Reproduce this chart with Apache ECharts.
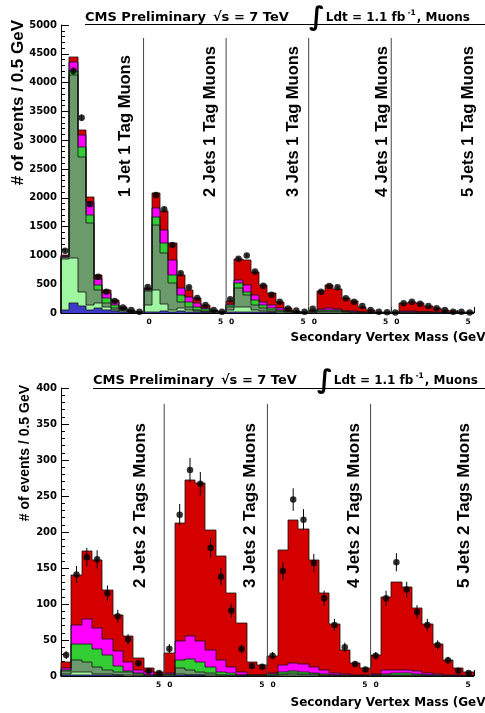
<!DOCTYPE html>
<html>
<head>
<meta charset="utf-8">
<script src="https://cdn.jsdelivr.net/npm/echarts/dist/echarts.min.js"></script>
<style>
html, body { margin: 0; padding: 0; background: #fff; }
#chart { width: 485px; height: 713px; }
</style>
</head>
<body>
<div id="chart"></div>
<script>
// 1 tag: 5 jet bins x 10 mass bins (0.5 GeV each), stacked bottom -> top
var topBlue = [
    60, 170, 120, 60, 80, 52, 30, 20, 10, 5,
    20, 25, 30, 20, 30, 25, 15, 10, 5, 2,
    20, 15, 15, 15, 15, 10, 8, 4, 2, 1,
    3, 8, 8, 6, 4, 3, 2, 1, 0.5, 0.3,
    0.5, 3, 3, 3, 2, 1, 1, 0.5, 0.3, 0.2
];
var topLightGreen = [
    870, 785, 250, 80, 88, 58, 20, 10, 5, 2,
    120, 375, 120, 30, 51, 30, 15, 10, 5, 2,
    30, 95, 95, 30, 20, 15, 10, 5, 2, 1,
    5, 10, 10, 8, 5, 4, 2, 1, 0.5, 0.3,
    0.5, 3, 3, 3, 2, 1, 1, 0.5, 0.3, 0.2
];
var topDarkGreen = [
    40, 3177, 2343, 1428, 232, 58, 30, 15, 8, 4,
    250, 1128, 886, 465, 116, 55, 22, 15, 7, 3,
    60, 318, 202, 94, 45, 30, 17, 8, 4, 2,
    12, 25, 25, 20, 12, 8, 4, 2, 1, 0.5,
    1, 8, 8, 7, 5, 3, 2, 1, 0.5, 0.3
];
var topGreen = [
    10, 75, 174, 133, 86, 87, 58, 25, 12, 5,
    10, 133, 174, 145, 115, 87, 58, 30, 12, 5,
    30, 87, 58, 87, 59, 40, 25, 10, 5, 3,
    8, 15, 15, 12, 8, 6, 3, 2, 1, 0.5,
    1, 5, 6, 5, 4, 3, 2, 1, 0.5, 0.3
];
var topMagenta = [
    10, 157, 203, 232, 99, 87, 57, 20, 7, 3,
    10, 156, 231, 260, 116, 87, 58, 30, 12, 5,
    20, 58, 116, 86, 58, 45, 27, 12, 6, 3,
    7, 20, 25, 20, 12, 9, 5, 3, 1.5, 1,
    1, 8, 9, 8, 6, 4, 3, 2, 1, 0.5
];
var topRed = [
    15, 80, 87, 87, 75, 58, 31, 20, 10, 5,
    30, 261, 335, 290, 232, 116, 87, 44, 19, 8,
    40, 359, 434, 405, 289, 202, 110, 42, 21, 10,
    25, 304, 403, 345, 225, 178, 83, 43, 20, 10,
    8, 141, 168, 142, 103, 69, 43, 30, 17.4, 8.5
];
var topData = [
    1080, 4200, 3390, 1890, 630, 370, 210, 95, 50, 20,
    450, 2050, 1800, 1180, 690, 445, 260, 140, 52, 22,
    240, 940, 1000, 720, 475, 315, 195, 80, 45, 20,
    75, 370, 470, 445, 255, 197, 120, 52, 23, 15,
    10, 168, 197, 160, 122, 81, 52, 23, 23, 10
];

// 2 tags: 4 jet bins x 10 mass bins
var botBlue = [
    1, 2, 2, 1, 1, 1, 0.5, 0.3, 0.2, 0.1,
    0.3, 1, 1, 1, 0.5, 0.3, 0.2, 0.1, 0.1, 0.1,
    0.2, 0.3, 0.3, 0.3, 0.3, 0.2, 0.1, 0.1, 0.05, 0.05,
    0.2, 0.2, 0.2, 0.2, 0.2, 0.1, 0.1, 0.05, 0.05, 0.02
];
var botLightGreen = [
    2, 3, 3, 2, 2, 1, 0.5, 0.3, 0.3, 0.1,
    0.5, 2, 1, 1, 1, 0.5, 0.3, 0.2, 0.1, 0.1,
    0.3, 0.5, 0.5, 0.5, 0.5, 0.3, 0.2, 0.1, 0.1, 0.05,
    0.2, 0.3, 0.3, 0.3, 0.2, 0.2, 0.1, 0.05, 0.05, 0.02
];
var botDarkGreen = [
    4, 17, 15, 10, 5, 4, 4, 2, 1, 0.5,
    1, 8, 6, 4, 2.5, 1.2, 1, 0.7, 0.3, 0.3,
    1, 2, 3, 2, 2, 1, 0.5, 0.3, 0.2, 0.1,
    0.5, 1, 1.5, 1.5, 1, 0.7, 0.4, 0.2, 0.1, 0.05
];
var botGreen = [
    2, 23, 25, 25, 21, 8, 2, 1.4, 0.5, 0.3,
    1, 11, 15, 14, 9, 4, 2.5, 1, 0.5, 0.5,
    1, 3, 3, 3, 2, 1.5, 1, 0.5, 0.3, 0.2,
    0.5, 1.5, 1.5, 1.5, 1, 0.8, 0.5, 0.3, 0.2, 0.1
];
var botMagenta = [
    2, 26, 34, 29, 22, 21, 12, 5, 3, 1,
    2, 26, 33, 28, 23, 16, 9, 4, 1, 1,
    2, 10, 11, 11, 8, 6, 3, 2, 1, 0.6,
    1.5, 5, 5.5, 5.5, 4, 3, 2, 1, 0.5, 0.3
];
var botRed = [
    9, 69, 94, 94, 69, 50, 36, 15.5, 6, 4,
    26.7, 164, 216, 220, 167, 144, 102, 67, 18, 13,
    23.5, 159, 199, 188, 148, 106, 68, 33, 16, 10,
    26, 102, 122, 115, 88, 68, 42, 20, 10, 5.5
];
var botData = [
    29, 141, 165, 162, 115, 83, 51, 17.6, 7, 4,
    38, 224, 286, 267, 178, 138, 91, 37.5, 14, 13,
    28, 146, 245, 217, 157, 108, 71, 40, 16.7, 9,
    28, 108, 158, 120, 89, 71, 43, 22, 7.4, 4
];

var topLabels = ['1 Jet 1 Tag Muons', '2 Jets 1 Tag Muons', '3 Jets 1 Tag Muons', '4 Jets 1 Tag Muons', '5 Jets 1 Tag Muons'];
var botLabels = ['2 Jets 2 Tags Muons', '3 Jets 2 Tags Muons', '4 Jets 2 Tags Muons', '5 Jets 2 Tags Muons'];
var topSeparators = [10, 20, 30, 40];
var botSeparators = [10, 20, 30];

var COLORS = {
    blue: '#3c3cc8',
    lightGreen: '#a0f5a0',
    darkGreen: '#6b9a6b',
    green: '#33cc33',
    magenta: '#ff00ff',
    red: '#d40000'
};
var FONT_H = 'DejaVu Sans';
var FONT_R = 'Liberation Sans';

function snap(p) {
    return [Math.round(p[0]), Math.round(p[1])];
}

// stacked histogram: bin i covers [i, i+1] on the x value axis.
// fills first, then the step outline of each cumulative component on top
function histSeries(gi, comps) {
    var n = comps[0][0].length;
    var base = comps[0][0].map(function () { return 0; });
    var fills = [], outlines = [];
    comps.forEach(function (c) {
        var rows = c[0].map(function (v, i) {
            var r = [i, base[i], base[i] + v];
            base[i] += v;
            return r;
        });
        rows.forEach(function (r, i) { r.push(i > 0 ? rows[i - 1][2] : 0); });
        fills.push({
            type: 'custom', xAxisIndex: gi, yAxisIndex: gi, silent: true, z: 2,
            encode: { x: 0, y: [1, 2] },
            data: rows,
            renderItem: function (params, api) {
                var a = snap(api.coord([api.value(0), api.value(1)]));
                var b = snap(api.coord([api.value(0) + 1, api.value(2)]));
                return {
                    type: 'rect',
                    shape: { x: a[0], y: b[1], width: b[0] - a[0], height: a[1] - b[1] },
                    style: { fill: c[1] }
                };
            }
        });
        outlines.push({
            type: 'custom', xAxisIndex: gi, yAxisIndex: gi, silent: true, z: 3,
            encode: { x: 0, y: [1, 2] },
            data: rows,
            renderItem: function (params, api) {
                var i = api.value(0), top = api.value(2);
                var pts = [api.coord([i, api.value(3)]), api.coord([i, top]), api.coord([i + 1, top])];
                if (i === n - 1) pts.push(api.coord([i + 1, 0]));
                return {
                    type: 'polyline',
                    shape: { points: pts.map(snap) },
                    style: { stroke: '#111', lineWidth: 0.8, fill: null }
                };
            }
        });
    });
    return fills.concat(outlines);
}

function dataSeries(gi, values) {
    var pts = values.map(function (v, i) { return [i + 0.5, v]; });
    return [{
        type: 'custom',
        xAxisIndex: gi,
        yAxisIndex: gi,
        silent: true,
        z: 4,
        data: pts,
        renderItem: function (params, api) {
            var x = api.value(0), y = api.value(1), e = Math.sqrt(y);
            var p1 = api.coord([x, y + e]), p2 = api.coord([x, Math.max(y - e, 0)]);
            return {
                type: 'line',
                shape: { x1: p1[0], y1: p1[1], x2: p2[0], y2: p2[1] },
                style: { stroke: '#000', lineWidth: 1 }
            };
        }
    }, {
        type: 'scatter',
        xAxisIndex: gi,
        yAxisIndex: gi,
        silent: true,
        z: 5,
        symbol: 'circle',
        symbolSize: 6.5,
        itemStyle: { color: '#000' },
        data: pts
    }];
}

function separatorSeries(gi, xs, yTop) {
    return {
        type: 'custom',
        xAxisIndex: gi,
        yAxisIndex: gi,
        silent: true,
        z: 3,
        data: xs.map(function (x) { return [x, yTop]; }),
        renderItem: function (params, api) {
            var p0 = api.coord([api.value(0), 0]), p1 = api.coord([api.value(0), api.value(1)]);
            return {
                type: 'line',
                shape: { x1: p0[0], y1: p0[1], x2: p1[0], y2: p1[1] },
                style: { stroke: '#444', lineWidth: 1 }
            };
        }
    };
}

var tickRich = {
    a: { fontSize: 7.5, fontWeight: 'bold', fontFamily: FONT_H, color: '#000', padding: [0, 3, 0, 0] },
    b: { fontSize: 7.5, fontWeight: 'bold', fontFamily: FONT_H, color: '#000', padding: [0, 0, 0, 3] },
    ha: { fontSize: 7.5, fontWeight: 'bold', fontFamily: FONT_H, color: 'rgba(0,0,0,0)', padding: [0, 3, 0, 0] },
    hb: { fontSize: 7.5, fontWeight: 'bold', fontFamily: FONT_H, color: 'rgba(0,0,0,0)', padding: [0, 0, 0, 3] }
};

function xAxis(gi, max, firstHidden) {
    return {
        type: 'value',
        gridIndex: gi,
        position: 'bottom',
        min: 0,
        max: max,
        interval: 10,
        axisLine: { show: true, onZero: false, lineStyle: { color: '#000', width: 1 } },
        axisTick: { show: true, inside: true, length: 6, lineStyle: { color: '#000' } },
        minorTick: { show: true, splitNumber: 5, length: 3, lineStyle: { color: '#000' } },
        splitLine: { show: false },
        axisLabel: {
            margin: 5,
            rich: tickRich,
            formatter: function (v) {
                if (v === 0) return '';
                if (v === 10 && firstHidden) return '{ha|5}{b|0}';
                if (v === max) return '{a|5}{hb|0}';
                return '{a|5}{b|0}';
            }
        }
    };
}

function yAxis(gi, max, interval) {
    return {
        type: 'value',
        gridIndex: gi,
        min: 0,
        max: max,
        interval: interval,
        axisLine: { show: true, lineStyle: { color: '#000', width: 1 } },
        axisTick: { show: true, inside: true, length: 8, lineStyle: { color: '#000' } },
        minorTick: { show: true, splitNumber: 5, length: 4, lineStyle: { color: '#000' } },
        splitLine: { show: false },
        axisLabel: {
            color: '#000', fontSize: 10, fontWeight: 'bold', fontFamily: FONT_H, margin: 4,
            formatter: function (v) { return String(v); }
        }
    };
}

function vText(text, x, y, size, align) {
    return {
        type: 'text', x: x, y: y, rotation: Math.PI / 2, silent: true,
        style: {
            text: text, fill: '#000',
            font: 'bold ' + size + 'px "' + FONT_R + '"',
            align: align, textAlign: align,
            verticalAlign: 'middle', textVerticalAlign: 'middle'
        }
    };
}

function hText(text, x, y, size) {
    return {
        type: 'text', x: x, y: y, silent: true,
        style: {
            text: text, fill: '#000',
            font: 'bold ' + size + 'px "' + FONT_H + '"',
            align: 'right', textAlign: 'right',
            verticalAlign: 'middle', textVerticalAlign: 'middle'
        }
    };
}

var titleText = '{a|CMS Preliminary}{b|√s = 7 TeV}{i|∫}{c|Ldt = 1.1 fb}{s|-1}{c|, Muons}';
var titleRich = {
    a: { fontSize: 13, fontWeight: 'bold', fontFamily: FONT_H, color: '#000' },
    b: { fontSize: 13, fontWeight: 'bold', fontFamily: FONT_H, color: '#000', padding: [0, 0, 0, 7] },
    i: { fontSize: 26, fontFamily: FONT_H, color: '#000', padding: [0, 1, 0, 20] },
    c: { fontSize: 12, fontWeight: 'bold', fontFamily: FONT_H, color: '#000' },
    s: { fontSize: 7.5, fontWeight: 'bold', fontFamily: FONT_H, color: '#000', verticalAlign: 'top', padding: [4, 1, 0, 2] }
};

var graphics = [
    { type: 'line', silent: true, shape: { x1: 85, y1: 24.5, x2: 485, y2: 24.5 }, style: { stroke: '#000', lineWidth: 1 } },
    { type: 'line', silent: true, shape: { x1: 93, y1: 388.5, x2: 485, y2: 388.5 }, style: { stroke: '#000', lineWidth: 1 } },
    vText('# of events / 0.5 GeV', 18, 20, 17, 'right'),
    vText('# of events / 0.5 GeV', 25, 385, 14, 'right'),
    hText('Secondary Vertex Mass (GeV)', 491, 338, 12),
    hText('Secondary Vertex Mass (GeV)', 491, 703, 12)
];
[125, 210, 293, 382, 468].forEach(function (x, i) {
    graphics.push(vText(topLabels[i], x, 197, 16.5, 'left'));
});
[140, 250, 354, 464].forEach(function (x, i) {
    graphics.push(vText(botLabels[i], x, 588, 17, 'left'));
});

var option = {
    animation: false,
    backgroundColor: '#fff',
    title: [
        { text: titleText, left: 85, top: 5, padding: 0, textStyle: { rich: titleRich } },
        { text: titleText, left: 93, top: 368, padding: 0, textStyle: { rich: titleRich } }
    ],
    grid: [
        { left: 61, top: 25, width: 430, height: 288 },
        { left: 61, top: 388, width: 428, height: 288 }
    ],
    xAxis: [
        xAxis(0, topData.length, true),
        xAxis(1, botData.length, false)
    ],
    yAxis: [
        yAxis(0, 5000, 500),
        yAxis(1, 400, 50)
    ],
    graphic: graphics,
    series: [].concat(
        histSeries(0, [
            [topBlue, COLORS.blue], [topLightGreen, COLORS.lightGreen], [topDarkGreen, COLORS.darkGreen],
            [topGreen, COLORS.green], [topMagenta, COLORS.magenta], [topRed, COLORS.red]
        ]),
        histSeries(1, [
            [botBlue, COLORS.blue], [botLightGreen, COLORS.lightGreen], [botDarkGreen, COLORS.darkGreen],
            [botGreen, COLORS.green], [botMagenta, COLORS.magenta], [botRed, COLORS.red]
        ]),
        [separatorSeries(0, topSeparators, 4775), separatorSeries(1, botSeparators, 378)],
        dataSeries(0, topData),
        dataSeries(1, botData)
    )
};

var chart = echarts.init(document.getElementById('chart'));
chart.setOption(option);
</script>
</body>
</html>
